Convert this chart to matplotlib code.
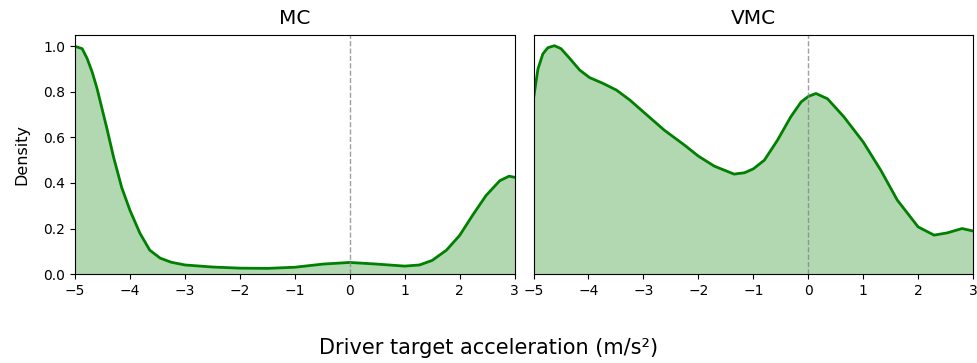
import matplotlib.pyplot as plt
import numpy as np

# values
mc_x = [-5.0, -4.87, -4.78, -4.69, -4.6, -4.51, -4.42, -4.3, -4.15, -4.0, -3.82,
        -3.64, -3.45, -3.25, -3.0, -2.5, -2.0, -1.5, -1.0, -0.48, 0.0, 0.48, 1.0,
        1.27, 1.5, 1.76, 2.0, 2.24, 2.48, 2.73, 2.9, 3.0]
mc_y = [1.0, 0.99, 0.947, 0.889, 0.816, 0.728, 0.64, 0.515, 0.38, 0.28, 0.18,
        0.105, 0.07, 0.052, 0.04, 0.031, 0.026, 0.025, 0.03, 0.044, 0.051, 0.044, 0.035,
        0.04, 0.06, 0.105, 0.17, 0.26, 0.345, 0.41, 0.43, 0.425]

vmc_x = [-5.0, -4.92, -4.83, -4.74, -4.62, -4.5, -4.34, -4.16, -3.98, -3.74, -3.49,
         -3.25, -3.0, -2.62, -2.25, -2.0, -1.71, -1.35, -1.16, -1.0, -0.8, -0.56,
         -0.32, -0.13, 0.0, 0.14, 0.35, 0.65, 1.0, 1.32, 1.62, 2.0, 2.29, 2.53,
         2.8, 3.0]
vmc_y = [0.77, 0.9, 0.967, 0.994, 1.003, 0.99, 0.947, 0.896, 0.863, 0.838, 0.808,
         0.765, 0.712, 0.632, 0.566, 0.518, 0.474, 0.439, 0.445, 0.462, 0.5, 0.588,
         0.69, 0.756, 0.78, 0.793, 0.77, 0.69, 0.58, 0.456, 0.325, 0.207, 0.171, 0.181,
         0.2, 0.189]

titles = ["MC", "VMC"]
series = [(mc_x, mc_y), (vmc_x, vmc_y)]

fig, axes = plt.subplots(1, 2, figsize=(9.78, 3.63), dpi=100, sharey=True)
fig.subplots_adjust(left=0.0767, right=0.995, top=0.9036, bottom=0.245, wspace=0.043)

for ax, title, (xs, ys) in zip(axes, titles, series):
    xs = np.array(xs)
    ys = np.array(ys)
    ax.fill_between(xs, ys, color="green", alpha=0.3, linewidth=0)
    ax.plot(xs, ys, color="green", linewidth=2, solid_joinstyle="round")
    ax.axvline(0, color="gray", linestyle="--", linewidth=1, alpha=0.75)
    ax.set_title(title, fontsize=14.5, pad=8)
    ax.set_xlim(-5, 3)
    ax.set_ylim(0, 1.05)
    ax.set_xticks(np.arange(-5, 4, 1))

axes[0].set_ylabel("Density", fontsize=11.5, labelpad=10)
axes[1].tick_params(axis="y", left=False)

fig.supxlabel("Driver target acceleration (m/s²)", fontsize=15, y=0.015)

plt.savefig("out.png")
